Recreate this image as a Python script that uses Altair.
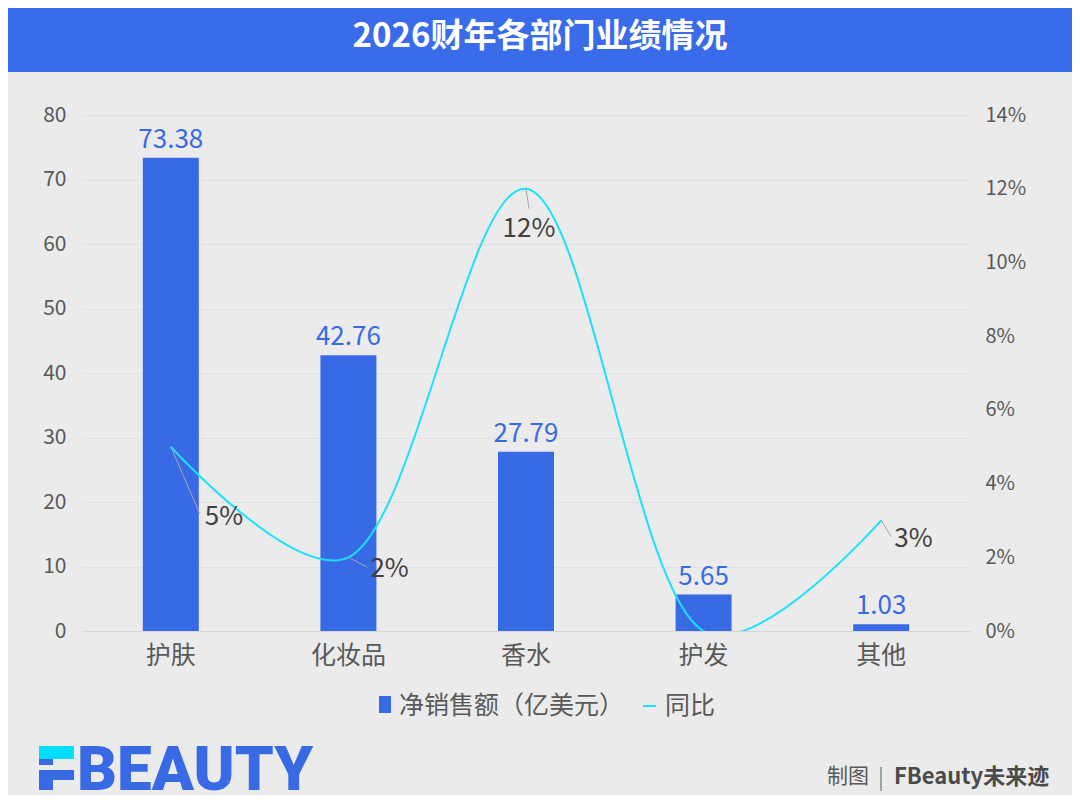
import altair as alt
import pandas as pd

# ---------------- data ----------------
categories = ["护肤", "化妆品", "香水", "护发", "其他"]
net_sales = [73.38, 42.76, 27.79, 5.65, 1.03]
sales_labels = ["73.38", "42.76", "27.79", "5.65", "1.03"]
yoy = [0.05, 0.02, 0.12, 0.0, 0.03]
yoy_labels = ["5%", "2%", "12%", "", "3%"]
left_ticks = [0, 10, 20, 30, 40, 50, 60, 70, 80]
right_ticks = [0, 0.02, 0.04, 0.06, 0.08, 0.10, 0.12, 0.14]

title_text = "2026财年各部门业绩情况"
legend_bar = "净销售额（亿美元）"
legend_line = "同比"

df = pd.DataFrame({
    "cat": categories,
    "sales": net_sales,
    "sales_label": sales_labels,
    "yoy": yoy,
    "yoy_label": yoy_labels,
})

# ---------------- style ----------------
FONT = "Noto Sans CJK SC"
BLUE = "#386AE6"
CYAN = "#1CE0FF"
GRAY = "#595959"
DARK = "#404040"
BG = "#EBEBEB"

W, H = 888, 516
PAD = {"left": 74, "top": 107, "right": 102, "bottom": 164}

base = alt.Chart(df)

xenc = alt.X(
    "cat:N", sort=categories, title=None,
    scale=alt.Scale(paddingInner=0, paddingOuter=0),
    axis=alt.Axis(labelAngle=0, labelFont=FONT, labelFontSize=25, labelColor=GRAY,
                  labelPadding=12, ticks=False, domainColor="#D6D6D6", domainWidth=1),
)

y_left = alt.Y(
    "sales:Q", title=None,
    scale=alt.Scale(domain=[0, 80], nice=False),
    axis=alt.Axis(values=left_ticks, orient="left", labelFont=FONT, labelFontSize=21,
                  labelColor=GRAY, labelPadding=16, domain=False, ticks=False,
                  gridColor="#E1E1E1", gridWidth=1),
)

y_right = alt.Y(
    "yoy:Q", title=None,
    scale=alt.Scale(domain=[0, 0.14], nice=False),
    axis=alt.Axis(values=right_ticks, format=".0%", orient="right", labelFont=FONT,
                  labelFontSize=20, labelColor=GRAY, labelPadding=15, domain=False,
                  ticks=False, grid=False),
)

bars = base.mark_bar(color=BLUE, size=56).encode(x=xenc, y=y_left)
bar_text = base.mark_text(font=FONT, fontSize=26, color=BLUE, baseline="alphabetic",
                          dy=-10).encode(x=xenc, y=y_left, text="sales_label:N")
left_layer = alt.layer(bars, bar_text)

line = base.mark_line(color=CYAN, strokeWidth=2, interpolate="catmull-rom", tension=0.3,
                      clip=True).encode(x=xenc, y=y_right)

# label placement (dx, dy, align) and leader line end offsets per category
label_style = {
    "护肤": (34, 70, "left", 29, 67),
    "化妆品": (22, 12, "left", 19, 10),
    "香水": (3, 40, "center", 3, 20),
    "其他": (13, 19, "left", 10, 16),
}
line_parts = [line]
for c, (dx, dy, al, lx, ly) in label_style.items():
    sel = base.transform_filter(alt.datum.cat == c)
    line_parts.append(
        sel.mark_rule(color="#A6A6A6", strokeWidth=1, x2Offset=lx, y2Offset=ly).encode(
            x=xenc, y=y_right, x2="cat:N", y2="yoy:Q")
    )
    line_parts.append(
        sel.mark_text(font=FONT, fontSize=26, color=DARK, align=al, baseline="middle",
                      dx=dx, dy=dy).encode(x=xenc, y=y_right, text="yoy_label:N")
    )
right_layer = alt.layer(*line_parts)

data_chart = alt.layer(left_layer, right_layer).resolve_scale(y="independent")

# ---------------- decorations (title bar, legend, footer) ----------------
one = alt.Chart(pd.DataFrame({"k": [0]}))

title_bar = one.mark_rect(color="#3A6BE8").encode(
    x=alt.value(-74), x2=alt.value(990), y=alt.value(-107), y2=alt.value(-43))
title = one.mark_text(text=title_text, font=FONT, fontSize=33, fontWeight="bold",
                      color="white", align="center", baseline="middle").encode(
    x=alt.value(458), y=alt.value(-78))

leg_sq = one.mark_rect(color=BLUE).encode(
    x=alt.value(297), x2=alt.value(309), y=alt.value(581), y2=alt.value(598))
leg_t1 = one.mark_text(text=legend_bar, font=FONT, fontSize=25, color=GRAY,
                       align="left", baseline="middle").encode(x=alt.value(317), y=alt.value(591))
leg_ln = one.mark_rule(color=CYAN, strokeWidth=2).encode(
    x=alt.value(561), x2=alt.value(574), y=alt.value(591))
leg_t2 = one.mark_text(text=legend_line, font=FONT, fontSize=25, color=GRAY,
                       align="left", baseline="middle").encode(x=alt.value(583), y=alt.value(591))

# logo "F" block + "BEAUTY"
logo_parts = [
    one.mark_rect(color="#00DDFF").encode(x=alt.value(-43), x2=alt.value(-8),
                                          y=alt.value(631), y2=alt.value(644)),
    one.mark_rect(color=BLUE).encode(x=alt.value(-43), x2=alt.value(-29),
                                     y=alt.value(644), y2=alt.value(650)),
    one.mark_rect(color=BLUE).encode(x=alt.value(-43), x2=alt.value(-8),
                                     y=alt.value(655), y2=alt.value(665)),
    one.mark_rect(color=BLUE).encode(x=alt.value(-43), x2=alt.value(-29),
                                     y=alt.value(665), y2=alt.value(675)),
    one.mark_text(text="BEAUTY", font="Roboto", fontSize=62, fontWeight=900, color=BLUE,
                  align="left", baseline="alphabetic").encode(x=alt.value(-5), y=alt.value(675)),
]

foot1 = one.mark_text(text="制图", font=FONT, fontSize=21, color=GRAY, align="left",
                      baseline="middle").encode(x=alt.value(745), y=alt.value(662))
foot_bar = one.mark_rule(color=GRAY, strokeWidth=1).encode(
    x=alt.value(799), y=alt.value(652), y2=alt.value(676))
foot2 = one.mark_text(text="FBeauty未来迹", font=FONT, fontSize=22, fontWeight="bold",
                      color="#4A4A4A", align="left", baseline="middle").encode(
    x=alt.value(812), y=alt.value(662))

deco = alt.layer(title_bar, title, leg_sq, leg_t1, leg_ln, leg_t2, *logo_parts,
                 foot1, foot_bar, foot2)

chart = alt.layer(data_chart, deco).properties(
    width=W, height=H,
    autosize=alt.AutoSizeParams(type="none"),
    padding=PAD,
).configure(background=BG).configure_view(stroke=None)

chart.save("out.html", embed_options={"renderer": "svg", "actions": False})
